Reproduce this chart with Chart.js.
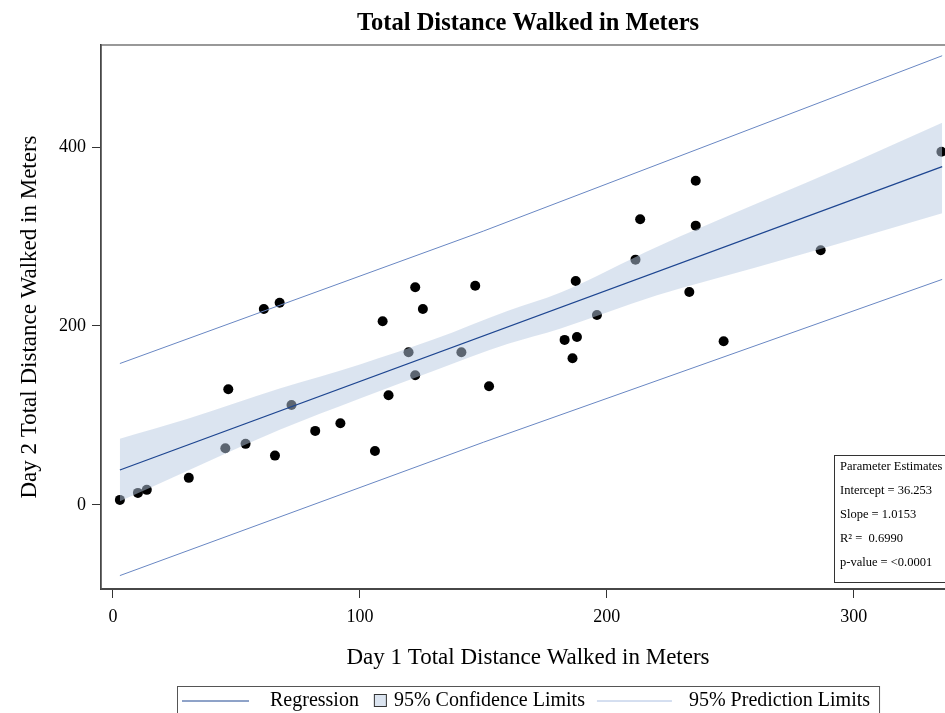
<!DOCTYPE html>
<html>
<head>
<meta charset="utf-8">
<script src="https://cdn.jsdelivr.net/npm/chart.js@4.4.1/dist/chart.umd.min.js"></script>
<style>
  html, body { margin: 0; padding: 0; background: #fff; overflow: hidden; }
  #wrap { width: 960px; height: 720px; position: relative; }
</style>
</head>
<body>
<div id="wrap"><canvas id="myChart"></canvas></div>
<script>
// observed points
const day1 = [2.8, 10.1, 13.7, 30.7, 45.5, 46.7, 53.7, 61.1, 65.6, 67.5, 72.3, 81.9, 92.1, 106.1, 109.2, 111.6, 119.7, 122.4, 122.4, 125.5, 141.1, 146.7, 152.3, 182.9, 186.1, 187.4, 187.9, 196, 211.6, 213.5, 233.4, 236, 236, 247.3, 286.6, 335.5];
const day2 = [5.6, 13.4, 16.8, 30.2, 63.4, 129.3, 68.2, 219, 55.1, 226, 111.7, 82.7, 91.3, 60.3, 205.3, 122.6, 170.6, 243.2, 144.9, 219, 170.6, 245, 132.6, 184.4, 163.9, 250.3, 187.7, 212.3, 274.1, 319.2, 238, 362.3, 312.1, 182.9, 284.6, 394.7];

// fit line and limits
const fitX = [2.8, 335.8];
const fitY = [39, 378];
const bandX = [2.8, 30, 67.5, 100, 130, 160, 181, 220, 261, 300, 335.8];
const confLow = [4, 38, 84, 119, 150, 180, 197, 234, 266, 297, 326];
const confHigh = [74, 96, 130, 157, 185, 217, 237, 288, 337, 383, 427];
const predX = [2.8, 150, 335.8];
const predLow = [-79, 70, 252];
const predHigh = [158, 306, 502];

const xTicks = [0, 100, 200, 300];
const yTicks = [0, 200, 400];

const legendLabels = ["Regression", "95% Confidence Limits", "95% Prediction Limits"];
const paramLines = ["Parameter Estimates", "Intercept = 36.253", "Slope = 1.0153", "R\u00B2 =  0.6990", "p-value = <0.0001"];

const SERIF = "'Liberation Serif', 'Times New Roman', serif";
const FIT_COLOR = "rgb(30, 70, 145)";
const PRED_COLOR = "rgb(105, 135, 195)";
const BAND_COLOR = "rgba(183, 201, 226, 0.5)";

const pairs = (xs, ys) => xs.map((x, i) => ({ x: x, y: ys[i] }));

const framePlugin = {
  id: "frame",
  afterDatasetsDraw(chart) {
    const { ctx, chartArea: a } = chart;
    ctx.save();
    ctx.strokeStyle = "#555";
    ctx.lineWidth = 1.2;
    ctx.strokeRect(a.left, a.top, a.right - a.left, a.bottom - a.top);
    ctx.restore();
  }
};

const paramPlugin = {
  id: "paramBox",
  afterDraw(chart) {
    const { ctx, chartArea: a } = chart;
    const left = 834, top = 455, w = a.right - 834, h = 127;
    ctx.save();
    ctx.fillStyle = "#fff";
    ctx.fillRect(left, top, w, h);
    ctx.strokeStyle = "#333";
    ctx.lineWidth = 1;
    ctx.strokeRect(left + 0.5, top + 0.5, w, h);
    ctx.fillStyle = "#000";
    ctx.font = "12.5px " + SERIF;
    ctx.textBaseline = "middle";
    paramLines.forEach((t, i) => ctx.fillText(t, left + 6, top + 12 + i * 24));
    ctx.restore();
  }
};

const legendPlugin = {
  id: "sasLegend",
  afterDraw(chart) {
    const { ctx, chartArea: a } = chart;
    ctx.save();
    ctx.font = "20px " + SERIF;
    const tw = legendLabels.map(t => ctx.measureText(t).width);
    const total = 5 + 67 + 21 + tw[0] + 15 + 13 + 7 + tw[1] + 12 + 75 + 17 + tw[2] + 9;
    const x0 = Math.round((a.left + a.right) / 2 - total / 2);
    const top = 686, cy = 701;
    ctx.strokeStyle = "#555";
    ctx.lineWidth = 1;
    ctx.strokeRect(x0 + 0.5, top + 0.5, total, 32);
    let x = x0 + 5;
    ctx.strokeStyle = FIT_COLOR;
    ctx.beginPath(); ctx.moveTo(x, cy); ctx.lineTo(x + 67, cy); ctx.stroke();
    x += 67 + 21;
    ctx.fillStyle = "#000";
    ctx.textBaseline = "middle";
    ctx.fillText(legendLabels[0], x, cy);
    x += tw[0] + 15;
    ctx.fillStyle = "rgb(219, 228, 240)";
    ctx.fillRect(x, cy - 7, 13, 13);
    ctx.strokeStyle = "#333";
    ctx.strokeRect(x + 0.5, cy - 6.5, 12, 12);
    x += 13 + 7;
    ctx.fillStyle = "#000";
    ctx.fillText(legendLabels[1], x, cy);
    x += tw[1] + 12;
    ctx.strokeStyle = "rgb(170, 190, 225)";
    ctx.beginPath(); ctx.moveTo(x, cy); ctx.lineTo(x + 75, cy); ctx.stroke();
    x += 75 + 17;
    ctx.fillText(legendLabels[2], x, cy);
    ctx.restore();
  }
};

const lineDs = (label, data, color, width, order) => ({
  label: label,
  data: data,
  showLine: true,
  borderColor: color,
  borderWidth: width,
  pointRadius: 0,
  fill: false,
  order: order
});

const data = {
  datasets: [
    lineDs("Regression", pairs(fitX, fitY), FIT_COLOR, 1.3, 0),
    lineDs("Upper prediction", pairs(predX, predHigh), PRED_COLOR, 1, 1),
    lineDs("Lower prediction", pairs(predX, predLow), PRED_COLOR, 1, 1),
    {
      label: "Upper confidence",
      data: pairs(bandX, confHigh),
      showLine: true,
      borderWidth: 0,
      borderColor: "rgba(0,0,0,0)",
      backgroundColor: BAND_COLOR,
      pointRadius: 0,
      cubicInterpolationMode: "monotone",
      fill: "+1",
      order: 2
    },
    {
      label: "Lower confidence",
      data: pairs(bandX, confLow),
      showLine: true,
      borderWidth: 0,
      borderColor: "rgba(0,0,0,0)",
      pointRadius: 0,
      cubicInterpolationMode: "monotone",
      fill: false,
      order: 2
    },
    {
      label: "Observed",
      data: pairs(day1, day2),
      showLine: false,
      pointRadius: 5,
      pointBackgroundColor: "#000",
      pointBorderWidth: 0,
      order: 3
    }
  ]
};

const config = {
  type: "scatter",
  data: data,
  options: {
    responsive: true,
    maintainAspectRatio: false,
    animation: false,
    events: [],
    layout: { padding: { left: 0, right: 3, top: 0, bottom: 34 } },
    plugins: {
      legend: { display: false },
      tooltip: { enabled: false },
      title: {
        display: true,
        fullSize: false,
        text: "Total Distance Walked in Meters",
        color: "#000",
        font: { family: SERIF, size: 24.5, weight: "bold", lineHeight: 1.2 },
        padding: { top: 8.5, bottom: 7.1 }
      }
    },
    scales: {
      x: {
        type: "linear",
        min: -4.85,
        max: 341,
        afterBuildTicks: (axis) => { axis.ticks = xTicks.map(v => ({ value: v })); },
        afterFit: (axis) => { axis.height = 97; },
        ticks: { color: "#000", font: { family: SERIF, size: 18 }, padding: 8, maxRotation: 0 },
        grid: { drawOnChartArea: false, tickLength: 9, color: "#333" },
        border: { color: "#333", width: 2 },
        title: {
          display: true,
          text: "Day 1 Total Distance Walked in Meters",
          color: "#000",
          font: { family: SERIF, size: 23, lineHeight: 1.2 },
          padding: { top: 0, bottom: 14.5 }
        }
      },
      y: {
        type: "linear",
        min: -94,
        max: 514,
        afterBuildTicks: (axis) => { axis.ticks = yTicks.map(v => ({ value: v })); },
        afterFit: (axis) => { axis.width = 101; },
        ticks: { color: "#000", font: { family: SERIF, size: 18 }, padding: 6 },
        grid: { drawOnChartArea: false, tickLength: 9, color: "#333" },
        border: { color: "#333", width: 1.5 },
        title: {
          display: true,
          text: "Day 2 Total Distance Walked in Meters",
          color: "#000",
          font: { family: SERIF, size: 23, lineHeight: 1.2 },
          padding: { top: 16.5, bottom: 0 }
        }
      }
    }
  },
  plugins: [framePlugin, paramPlugin, legendPlugin]
};

const myChart = new Chart(document.getElementById("myChart"), config);
</script>
</body>
</html>
